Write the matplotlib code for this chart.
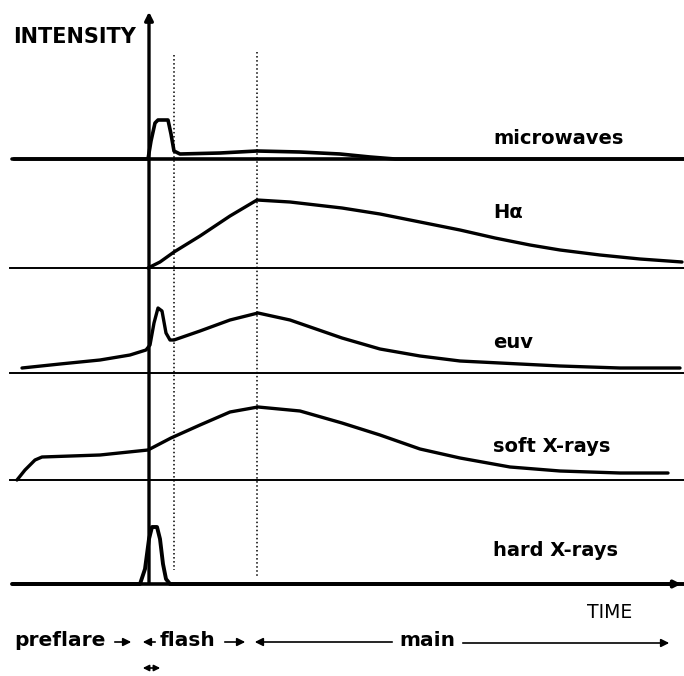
import matplotlib.pyplot as plt

# schematic flare time profiles; x = time (arbitrary units), heights above each baseline
baselines = {'microwaves': 159, 'halpha': 268, 'euv': 373, 'soft': 480, 'hard': 584}

t_mw = [12, 148, 151, 155, 158, 168, 171, 174, 180, 220, 257, 300, 340, 370, 395, 684]
mw = [0, 0, 18, 36, 39, 39, 25, 8, 5, 6, 8, 7, 5, 2, 0, 0]

t_ha = [148, 160, 174, 200, 230, 257, 290, 342, 380, 420, 460, 495, 530, 560, 600, 640, 682]
ha = [0, 6, 16, 32, 52, 68, 66, 60, 54, 46, 38, 30, 23, 18, 13, 9, 6]

t_euv = [22, 60, 100, 130, 146, 150, 154, 158, 162, 166, 170, 174, 200, 230, 258, 290,
         342, 380, 420, 460, 500, 560, 620, 680]
euv = [5, 9, 13, 18, 23, 28, 50, 65, 62, 40, 33, 33, 42, 53, 60, 53,
       35, 24, 17, 12, 10, 7, 5, 5]

t_sx = [17, 25, 35, 42, 100, 148, 171, 200, 230, 258, 300, 342, 380, 420, 460, 510, 560, 620, 668]
sx = [0, 10, 20, 23, 25, 30, 42, 55, 68, 73, 69, 57, 45, 31, 22, 13, 9, 7, 7]

t_hx = [12, 140, 145, 149, 152, 157, 160, 163, 166, 170, 684]
hx = [0, 0, 15, 45, 57, 57, 45, 20, 5, 0, 0]

labels = ['microwaves', 'H\u03b1', 'euv', 'soft X-rays', 'hard X-rays']
label_y = [138, 213, 342, 446, 550]

fig = plt.figure(figsize=(6.84, 6.76), dpi=100)
ax = fig.add_axes([0, 0, 1, 1])
ax.set_xlim(0, 684)
ax.set_ylim(676, 0)
ax.axis('off')

# baselines
ax.plot([15, 684], [baselines['microwaves']] * 2, color='black', lw=2.6)
for k in ['halpha', 'euv', 'soft']:
    ax.plot([10, 684], [baselines[k]] * 2, color='black', lw=1.4)
ax.annotate('', xy=(684, baselines['hard']), xytext=(10, baselines['hard']),
            arrowprops=dict(arrowstyle='-|>', color='black', lw=2.6, mutation_scale=10))

# curves
def draw(t, h, base, lw=2.4):
    ax.plot(t, [base - v for v in h], color='black', lw=lw,
            solid_capstyle='round', solid_joinstyle='round')

draw(t_mw, mw, baselines['microwaves'], 2.6)
draw(t_ha, ha, baselines['halpha'])
draw(t_euv, euv, baselines['euv'])
draw(t_sx, sx, baselines['soft'])
draw(t_hx, hx, baselines['hard'], 2.8)

# intensity axis
ax.annotate('', xy=(149, 9), xytext=(149, 586),
            arrowprops=dict(arrowstyle='-|>', color='black', lw=2.4, mutation_scale=12))

# dotted phase markers
ax.plot([174, 174], [55, 570], color='black', lw=1.1, ls=':')
ax.plot([257, 257], [52, 577], color='black', lw=1.1, ls=':')

# text
ax.text(13, 37, 'INTENSITY', fontsize=15, fontweight='bold', va='center', ha='left')
for lab, y in zip(labels, label_y):
    ax.text(493, y, lab, fontsize=14, fontweight='bold', va='center', ha='left')
ax.text(587, 613, 'TIME', fontsize=13.5, va='center', ha='left')

ax.text(14, 641, 'preflare', fontsize=14.5, fontweight='bold', va='center', ha='left')
ax.text(160, 641, 'flash', fontsize=14.5, fontweight='bold', va='center', ha='left')
ax.text(399, 641, 'main', fontsize=14.5, fontweight='bold', va='center', ha='left')

arr = dict(arrowstyle='-|>', color='black', lw=1.2, mutation_scale=12)
ax.annotate('', xy=(134, 642), xytext=(112, 642), arrowprops=arr)
ax.annotate('', xy=(140, 642), xytext=(158, 642), arrowprops=arr)
ax.annotate('', xy=(248, 642), xytext=(222, 642), arrowprops=arr)
ax.annotate('', xy=(252, 642), xytext=(395, 642), arrowprops=arr)
ax.annotate('', xy=(672, 643), xytext=(460, 643), arrowprops=arr)
ax.annotate('', xy=(163, 668), xytext=(140, 668),
            arrowprops=dict(arrowstyle='<|-|>', color='black', lw=1.2, mutation_scale=9))

fig.savefig('out.png', dpi=100)
